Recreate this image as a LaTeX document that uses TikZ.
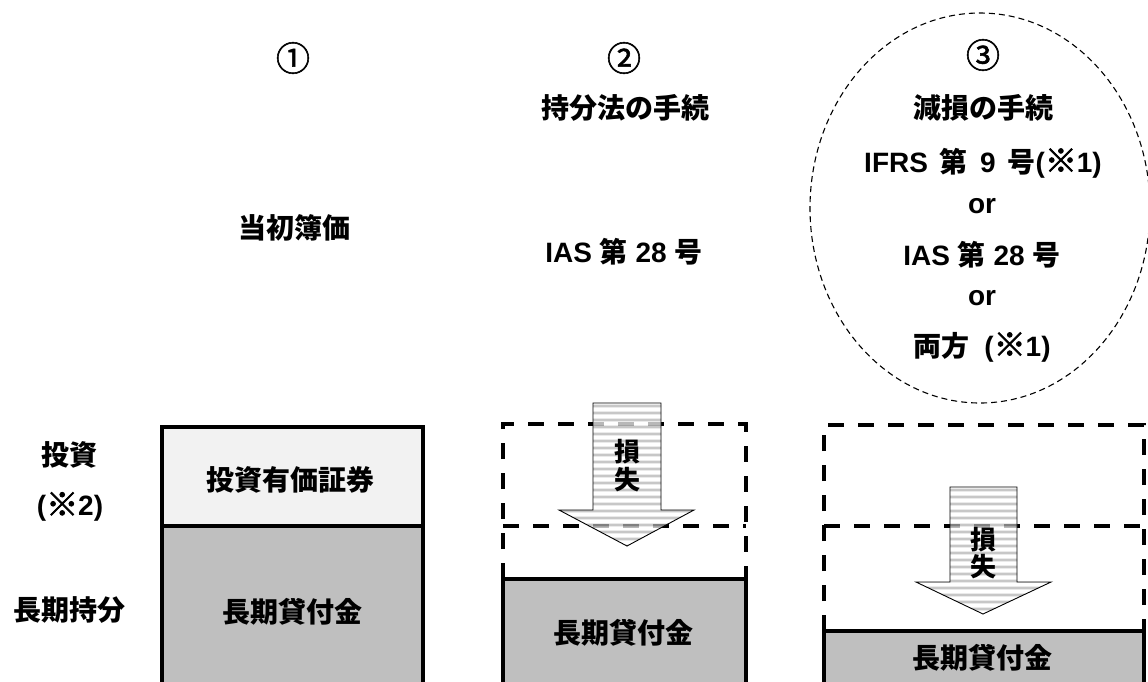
\documentclass[tikz,border=0pt]{standalone}
\usepackage{fontspec}
\setmainfont{Liberation Sans}
\newfontfamily\jp{Noto Sans CJK JP}
\newfontfamily\circfont[FakeBold=1.6]{Noto Sans CJK JP}
\newfontfamily\komefont[FakeBold=2.5]{Noto Sans CJK JP}
\newcommand{\J}[1]{{\jp\bfseries #1}}
\newcommand{\Kome}{{\komefont\mdseries\fontsize{32}{32}\selectfont ※}}
\newcommand{\Circ}[1]{{\circfont\mdseries\fontsize{34}{34}\selectfont #1}}
\begin{document}
\begin{tikzpicture}[x=1pt,y=-1pt,
  lbl/.style={inner sep=0pt, font=\fontsize{28}{32}\selectfont\bfseries},
  small/.style={inner sep=0pt, font=\fontsize{26}{26}\selectfont\bfseries},
  solidbox/.style={draw=black, line width=3.5pt},
  dashline/.style={draw=black, line width=3.5pt, dash pattern=on 16pt off 14pt},
  ell/.style={draw=black, line width=1.1pt, dash pattern=on 6pt off 4pt},
  stripe/.style={draw=black!30, line width=2.6pt},
  arrowout/.style={draw=black, line width=0.9pt}
]
\useasboundingbox (0,0) rectangle (1148,681);
\clip (0,0) rectangle (1148,681);
\fill[white] (0,0) rectangle (1148,681);

% ---------- column 3 ellipse ----------
\draw[ell] (980,208) ellipse [x radius=170, y radius=195];

% ---------- column 1 box ----------
\fill[black!5] (162,427) rectangle (423,526);
\fill[black!25] (162,526) rectangle (423,700);
\draw[solidbox] (162,700) -- (162,427) -- (423,427) -- (423,700);
\draw[solidbox] (162,526) -- (423,526);

% ---------- column 2 ----------
\fill[black!25] (503,579) rectangle (746,700);
\draw[solidbox] (503,700) -- (503,579) -- (746,579) -- (746,700);
\draw[dashline] (503,579) -- (503,424) -- (746,424) -- (746,579);
\draw[dashline] (503,526) -- (746,526);

\begin{scope}[transparency group, opacity=0.72]
  \begin{scope}
    \clip (593,403) -- (661,403) -- (661,510) -- (694,510) -- (627,546) -- (559,510) -- (593,510) -- cycle;
    \fill[white] (550,400) rectangle (700,550);
    \foreach \yy in {406,413,...,546} \draw[stripe] (550,\yy) -- (700,\yy);
  \end{scope}
\end{scope}
\draw[arrowout] (593,403) -- (661,403) -- (661,510) -- (694,510) -- (627,546) -- (559,510) -- (593,510) -- cycle;

% ---------- column 3 ----------
\fill[black!25] (824,631) rectangle (1144,700);
\draw[solidbox] (824,700) -- (824,631) -- (1144,631) -- (1144,700);
\draw[dashline] (824,631) -- (824,425) -- (1144,425) -- (1144,631);
\draw[dashline] (824,526) -- (1144,526);

\begin{scope}[transparency group, opacity=0.72]
  \begin{scope}
    \clip (950,487) -- (1017,487) -- (1017,582) -- (1051,582) -- (983,614) -- (916,582) -- (950,582) -- cycle;
    \fill[white] (900,480) rectangle (1060,620);
    \foreach \yy in {490,497,...,614} \draw[stripe] (900,\yy) -- (1060,\yy);
  \end{scope}
\end{scope}
\draw[arrowout] (950,487) -- (1017,487) -- (1017,582) -- (1051,582) -- (983,614) -- (916,582) -- (950,582) -- cycle;

% ---------- texts ----------
\node[lbl] (n1)   at (293,58)  {\Circ{①}};
\node[lbl] (t1)   at (294,228) {\J{当初簿価}};

\node[lbl] (n2)   at (624,58)  {\Circ{②}};
\node[lbl] (h2)   at (625,108) {\J{持分法の手続}};
\node[lbl] (s2)   at (624,252) {IAS \J{第} 28 \J{号}};

\node[lbl] (n3)   at (983,55)  {\Circ{③}};
\node[lbl] (h3)   at (983,108) {\J{減損の手続}};
\node[lbl] (s3a)  at (983,163) {IFRS\hspace{11pt}\J{第}\hspace{13pt}9\hspace{12pt}\J{号}(\Kome1)};
\node[lbl] (or1)  at (982,206) {or};
\node[lbl] (s3b)  at (982,255) {IAS \J{第} 28 \J{号}};
\node[lbl] (or2)  at (982,298) {or};
\node[lbl] (s3c)  at (982,347) {\J{両方}\hspace{15pt}(\Kome1)};

\node[lbl] (l1)   at (69,455)  {\J{投資}};
\node[lbl] (l2)   at (70,507)  {(\Kome2)};
\node[lbl] (l3)   at (69,610)  {\J{長期持分}};

\node[lbl] (b1a)  at (290,480) {\J{投資有価証券}};
\node[lbl] (b1b)  at (292,612) {\J{長期貸付金}};
\node[lbl] (b2)   at (623,633) {\J{長期貸付金}};
\node[lbl] (b3)   at (982,658) {\J{長期貸付金}};

\node[small] (a2a) at (627,452) {\J{損}};
\node[small] (a2b) at (627,480) {\J{失}};
\node[small] (a3a) at (983,540) {\J{損}};
\node[small] (a3b) at (983,567) {\J{失}};
\end{tikzpicture}
\end{document}
